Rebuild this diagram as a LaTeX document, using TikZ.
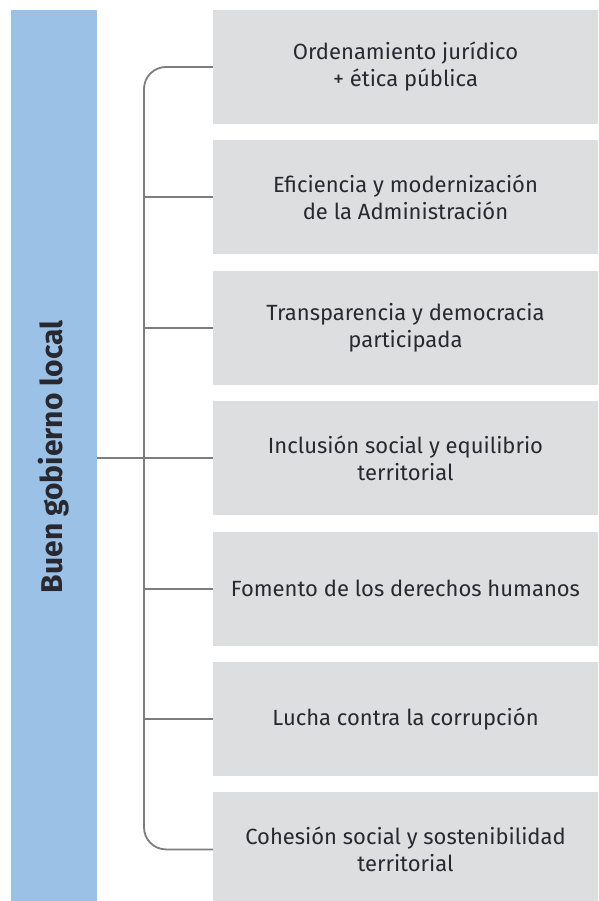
\documentclass[tikz,border=0pt]{standalone}
\usepackage{fontspec}
\setmainfont{Fira Sans}
\usetikzlibrary{positioning}

\definecolor{barblue}{RGB}{155,194,230}
\definecolor{boxgray}{RGB}{221,222,224}
\definecolor{linkgray}{RGB}{125,125,125}
\definecolor{textgray}{RGB}{40,40,48}

\begin{document}
\begin{tikzpicture}[
    x=1pt, y=1pt,
    node distance = 16pt,
        topic/.style = {rectangle, fill=boxgray, minimum width=385pt, minimum height=114pt,
                        inner sep=0pt, align=center, text=textgray,
                        font=\fontsize{22}{27}\selectfont},
        bar/.style = {rectangle, fill=barblue, rotate=90, minimum width=894pt, minimum height=86pt,
                      inner sep=0pt, text=textgray, font=\fontsize{30}{32}\selectfont\bfseries},
        link/.style = {draw=linkgray, line width=1.8pt}
        ]

    \useasboundingbox (0,0) rectangle (598,-901);

    % left bar
    \node[bar] (bar) at (54,-457) {Buen gobierno local};

    % topics
    \node[topic] (ord) at (405.5,-67) {Ordenamiento jurídico\\+ ética pública};
    \node[topic, below=of ord] (efi) {Eficiencia y modernización\\de la Administración};
    \node[topic, below=of efi] (tra) {Transparencia y democracia\\participada};
    \node[topic, below=of tra] (inc) {Inclusión social y equilibrio\\territorial};
    \node[topic, below=of inc] (fom) {Fomento de los derechos humanos};
    \node[topic, below=of fom] (luc) {Lucha contra la corrupción};
    \node[topic, below=of luc] (coh) {Cohesión social y sostenibilidad\\territorial};

    % bracket
    \coordinate (spine) at (144,0);
    \draw[link, rounded corners=22pt]
        (ord.west) -- (ord.west -| spine) -- (coh.west -| spine) -- (coh.west);
    \draw[link]
        (efi.west) -- (efi.west -| spine)
        (tra.west) -- (tra.west -| spine)
        (fom.west) -- (fom.west -| spine)
        (luc.west) -- (luc.west -| spine)
        (inc.west -| bar.south) -- (inc.west);

\end{tikzpicture}
\end{document}
